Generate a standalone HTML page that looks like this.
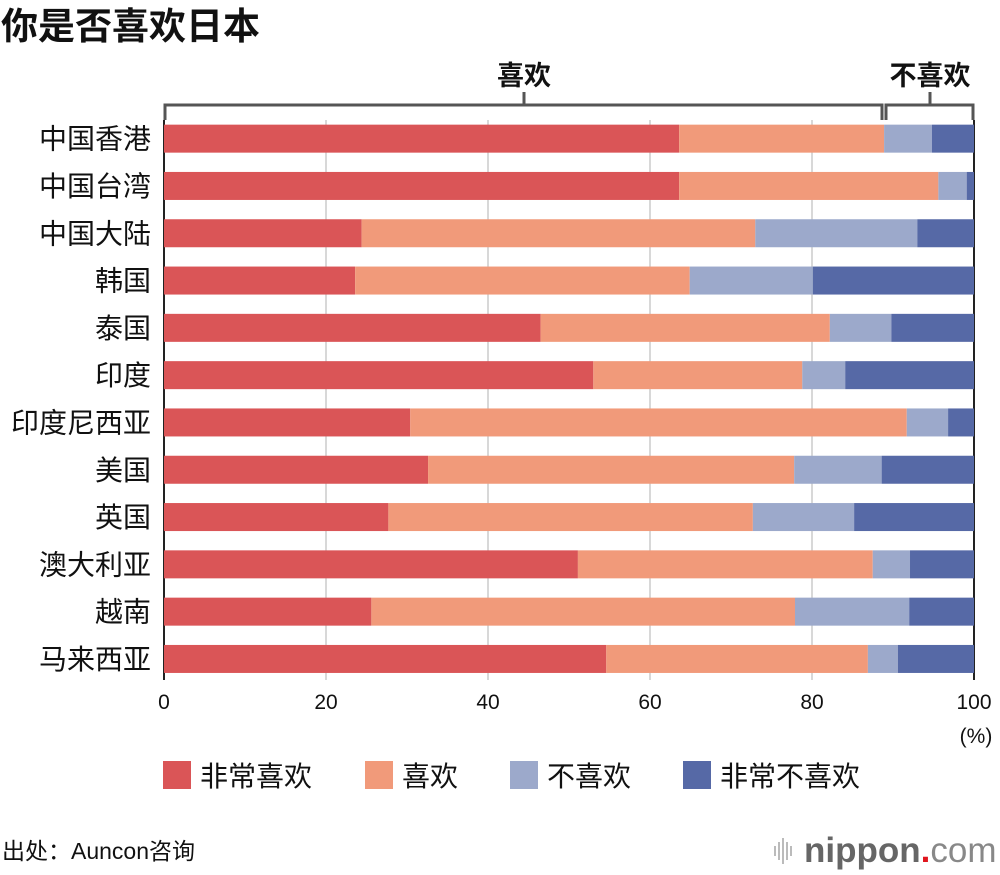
<!DOCTYPE html>
<html><head><meta charset="utf-8">
<style>
body{margin:0;background:#fff;}
svg text{font-family:"Liberation Sans","Noto Sans CJK SC",sans-serif;}
</style></head>
<body>
<svg width="1000" height="870" xmlns="http://www.w3.org/2000/svg">
<text x="1" y="39" font-size="37" font-weight="bold" fill="#111">你是否喜欢日本</text>
<g id="grid"></g>
<g id="bars"></g>
<g id="labels"></g>
<g stroke="#555" stroke-width="3" fill="none">
<path d="M165,120 V105 H882 V120 M524,105 V92"/>
<path d="M886,120 V105 H973 V120 M930,105 V92"/>
</g>
<text x="524" y="85" font-size="27" font-weight="bold" text-anchor="middle" fill="#111">喜欢</text>
<text x="930" y="85" font-size="27" font-weight="bold" text-anchor="middle" fill="#111">不喜欢</text>
<text x="976" y="743" font-size="21" text-anchor="middle" fill="#111">(%)</text>
<g font-size="28" fill="#111">
<rect x="163" y="761" width="28" height="28" fill="#da5557"/><text x="200" y="786">非常喜欢</text>
<rect x="365" y="761" width="28" height="28" fill="#f19a7a"/><text x="402" y="786">喜欢</text>
<rect x="510" y="761" width="28" height="28" fill="#9ca9cb"/><text x="547" y="786">不喜欢</text>
<rect x="683" y="761" width="28" height="28" fill="#5669a6"/><text x="720" y="786">非常不喜欢</text>
</g>
<text x="2" y="859" font-size="23" fill="#111">出处：Auncon咨询</text>
<g>
<g stroke="#bbb" stroke-width="2"><path d="M775,846 v10 M779,842 v18 M783,838 v26 M787,842 v18 M791,846 v10"/></g>
<text x="804" y="862" font-size="35" font-weight="bold" fill="#666">nippon<tspan fill="#e0161e">.</tspan><tspan font-weight="normal" fill="#888">com</tspan></text>
</g>
</svg>
<script>
const categories=["中国香港","中国台湾","中国大陆","韩国","泰国","印度","印度尼西亚","美国","英国","澳大利亚","越南","马来西亚"];
const veryLike=[63.6,63.6,24.4,23.6,46.5,53.0,30.4,32.6,27.7,51.1,25.6,54.6];
const like=[25.3,32.0,48.6,41.3,35.7,25.8,61.3,45.2,45.0,36.4,52.3,32.3];
const dislike=[5.9,3.5,20.0,15.2,7.6,5.3,5.1,10.8,12.5,4.6,14.1,3.7];
const veryDislike=[5.2,0.9,7.0,19.9,10.2,15.9,3.2,11.4,14.8,7.9,8.0,9.4];
const xTicks=[0,20,40,60,80,100];
const NS="http://www.w3.org/2000/svg";
const x0=164,x1=974,yTop=115,rowH=47.3,barH=28;
const xs=v=>x0+(x1-x0)*v/100;
const ys=i=>yTop+rowH*(i+0.5);
function mk(t,a,p){const e=document.createElementNS(NS,t);for(const k in a)e.setAttribute(k,a[k]);p.appendChild(e);return e;}
const grid=document.getElementById('grid'),bars=document.getElementById('bars'),labels=document.getElementById('labels');
xTicks.forEach(t=>{
 const l=mk('line',{x1:xs(t),x2:xs(t),y1:120,y2:680,stroke:(t==0||t==100)?'#222':'#ccc','stroke-width':(t==0||t==100)?2:1.5},grid);
 
 
 const tx=mk('text',{x:xs(t),y:709,'font-size':21,'text-anchor':'middle',fill:'#111'},labels);
 tx.textContent=t;
 
 
});
const series=[veryLike,like,dislike,veryDislike];
const colors=['#da5557','#f19a7a','#9ca9cb','#5669a6'];
const snames=['very-like','like','dislike','very-dislike'];
categories.forEach((c,i)=>{
 let acc=0;
 series.forEach((s,j)=>{
  let v=s[i];
  if(j==3)v=100-acc;
  const r=mk('rect',{x:xs(acc),y:ys(i)-barH/2,width:xs(acc+v)-xs(acc),height:barH,fill:colors[j]},bars);
  
  
  acc+=v;
 });
 const t=mk('text',{x:151,y:ys(i)+10,'font-size':28,'text-anchor':'end',fill:'#111'},labels);
 t.textContent=c;
 
 
});
</script>
</body></html>
